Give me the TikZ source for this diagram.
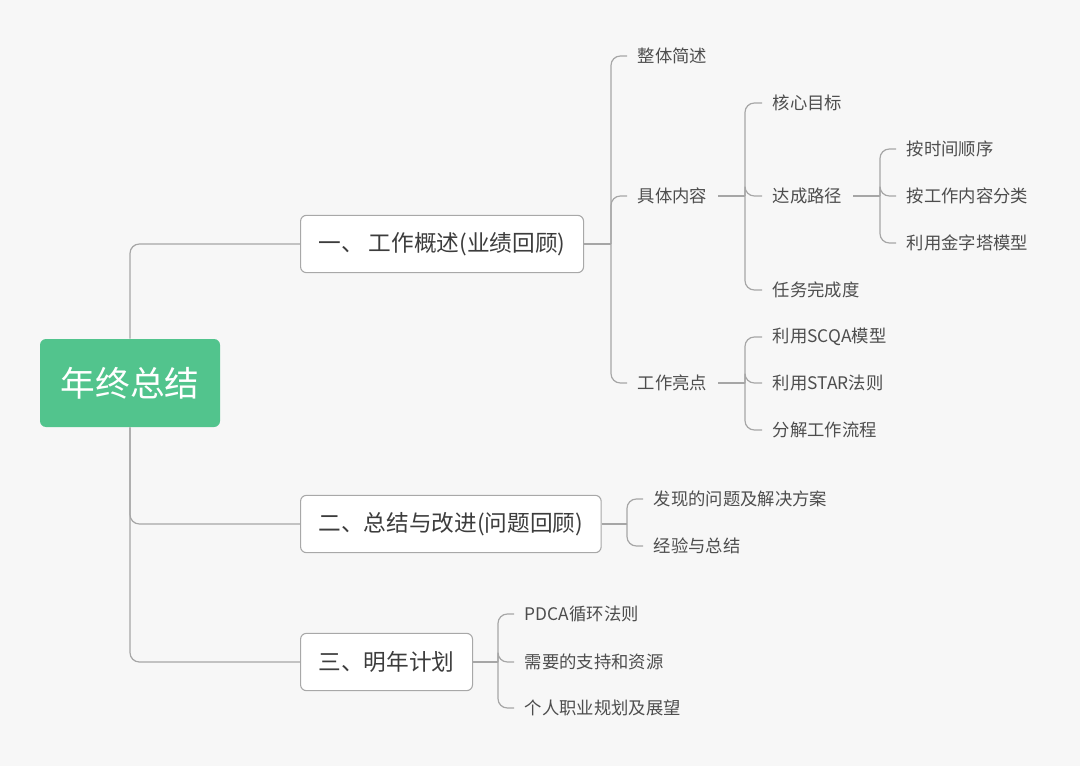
\documentclass[tikz,border=0pt]{standalone}
\usepackage{fontspec}
\setmainfont{Noto Sans CJK SC}
\usepackage{xcolor}
\usepackage{tikz}
\usetikzlibrary{calc}

\definecolor{bgcol}{HTML}{F7F7F7}
\definecolor{rootgreen}{HTML}{52C48D}
\definecolor{boxline}{HTML}{A8A8A8}
\definecolor{linegray}{HTML}{A6A6A6}
\definecolor{textdark}{HTML}{3C3C3C}
\definecolor{textgray}{HTML}{4D4D4D}

\begin{document}
\begin{tikzpicture}[
    x=0.75pt, y=-0.75pt,
    rootbox/.style={
        rectangle, rounded corners=4.5pt, fill=rootgreen,
        text=white, font=\fontsize{26}{30}\selectfont,
        inner xsep=15pt, minimum width=135pt, minimum height=66pt
    },
    topic/.style={
        rectangle, rounded corners=4.5pt, draw=boxline, fill=white,
        line width=0.8pt, text=textdark, font=\fontsize{17}{20}\selectfont,
        inner xsep=13.5pt, minimum height=43pt, anchor=west
    },
    leaf/.style={
        text=textgray, font=\fontsize{13}{16}\selectfont,
        inner xsep=8pt, inner ysep=2pt, anchor=west
    },
    link/.style={draw=linegray, line width=0.9pt, rounded corners=7pt}
]
\fill[bgcol] (0,0) rectangle (1080,766);
\useasboundingbox (0,0) rectangle (1080,766);

% Root and main topics
\node[rootbox] (root) at (130,383) {年终总结};
\node[topic] (work) at (300,244) {一、 工作概述(业绩回顾)};
\node[topic] (review) at (300,524) {二、总结与改进(问题回顾)};
\node[topic] (plan) at (300,662) {三、明年计划};

\draw[link] (root.north) |- (work.west);
\draw[link] (root.south) |- (review.west);
\draw[link] (root.south) |- (plan.west);

% Bracket points
\coordinate (b-work) at (611,244);
\coordinate (b-content) at (745,196);
\coordinate (b-path) at (880,196);
\coordinate (b-highlight) at (745,383);
\coordinate (b-review) at (627,524);
\coordinate (b-plan) at (498,662);

% Work overview branch
\node[leaf] (overview) at (627,56) {整体简述};
\node[leaf] (content) at (627,196) {具体内容};
\node[leaf] (highlight) at (627,383) {工作亮点};

\node[leaf] (goal) at (762,103) {核心目标};
\node[leaf] (path) at (762,196) {达成路径};
\node[leaf] (done) at (762,290) {任务完成度};

\node[leaf] (bytime) at (896,149) {按时间顺序};
\node[leaf] (bytype) at (896,196) {按工作内容分类};
\node[leaf] (pyramid) at (896,243) {利用金字塔模型};

\node[leaf] (scqa) at (762,337) {利用SCQA模型};
\node[leaf] (star) at (762,383) {利用STAR法则};
\node[leaf] (flow) at (762,430) {分解工作流程};

% Review branch
\node[leaf] (problem) at (643,499) {发现的问题及解决方案};
\node[leaf] (lesson) at (643,546) {经验与总结};

% Plan branch
\node[leaf] (pdca) at (514,614) {PDCA循环法则};
\node[leaf] (support) at (514,662) {需要的支持和资源};
\node[leaf] (career) at (514,708) {个人职业规划及展望};

% Connectors
\draw[link] (work.east) -- (b-work);
\foreach \c in {overview,content,highlight}
    \draw[link] (b-work) |- (\c.west);
\draw[link] (content.east) -- (b-content);
\foreach \c in {goal,path,done}
    \draw[link] (b-content) |- (\c.west);
\draw[link] (path.east) -- (b-path);
\foreach \c in {bytime,bytype,pyramid}
    \draw[link] (b-path) |- (\c.west);
\draw[link] (highlight.east) -- (b-highlight);
\foreach \c in {scqa,star,flow}
    \draw[link] (b-highlight) |- (\c.west);
\draw[link] (review.east) -- (b-review);
\foreach \c in {problem,lesson}
    \draw[link] (b-review) |- (\c.west);
\draw[link] (plan.east) -- (b-plan);
\foreach \c in {pdca,support,career}
    \draw[link] (b-plan) |- (\c.west);

\end{tikzpicture}
\end{document}
